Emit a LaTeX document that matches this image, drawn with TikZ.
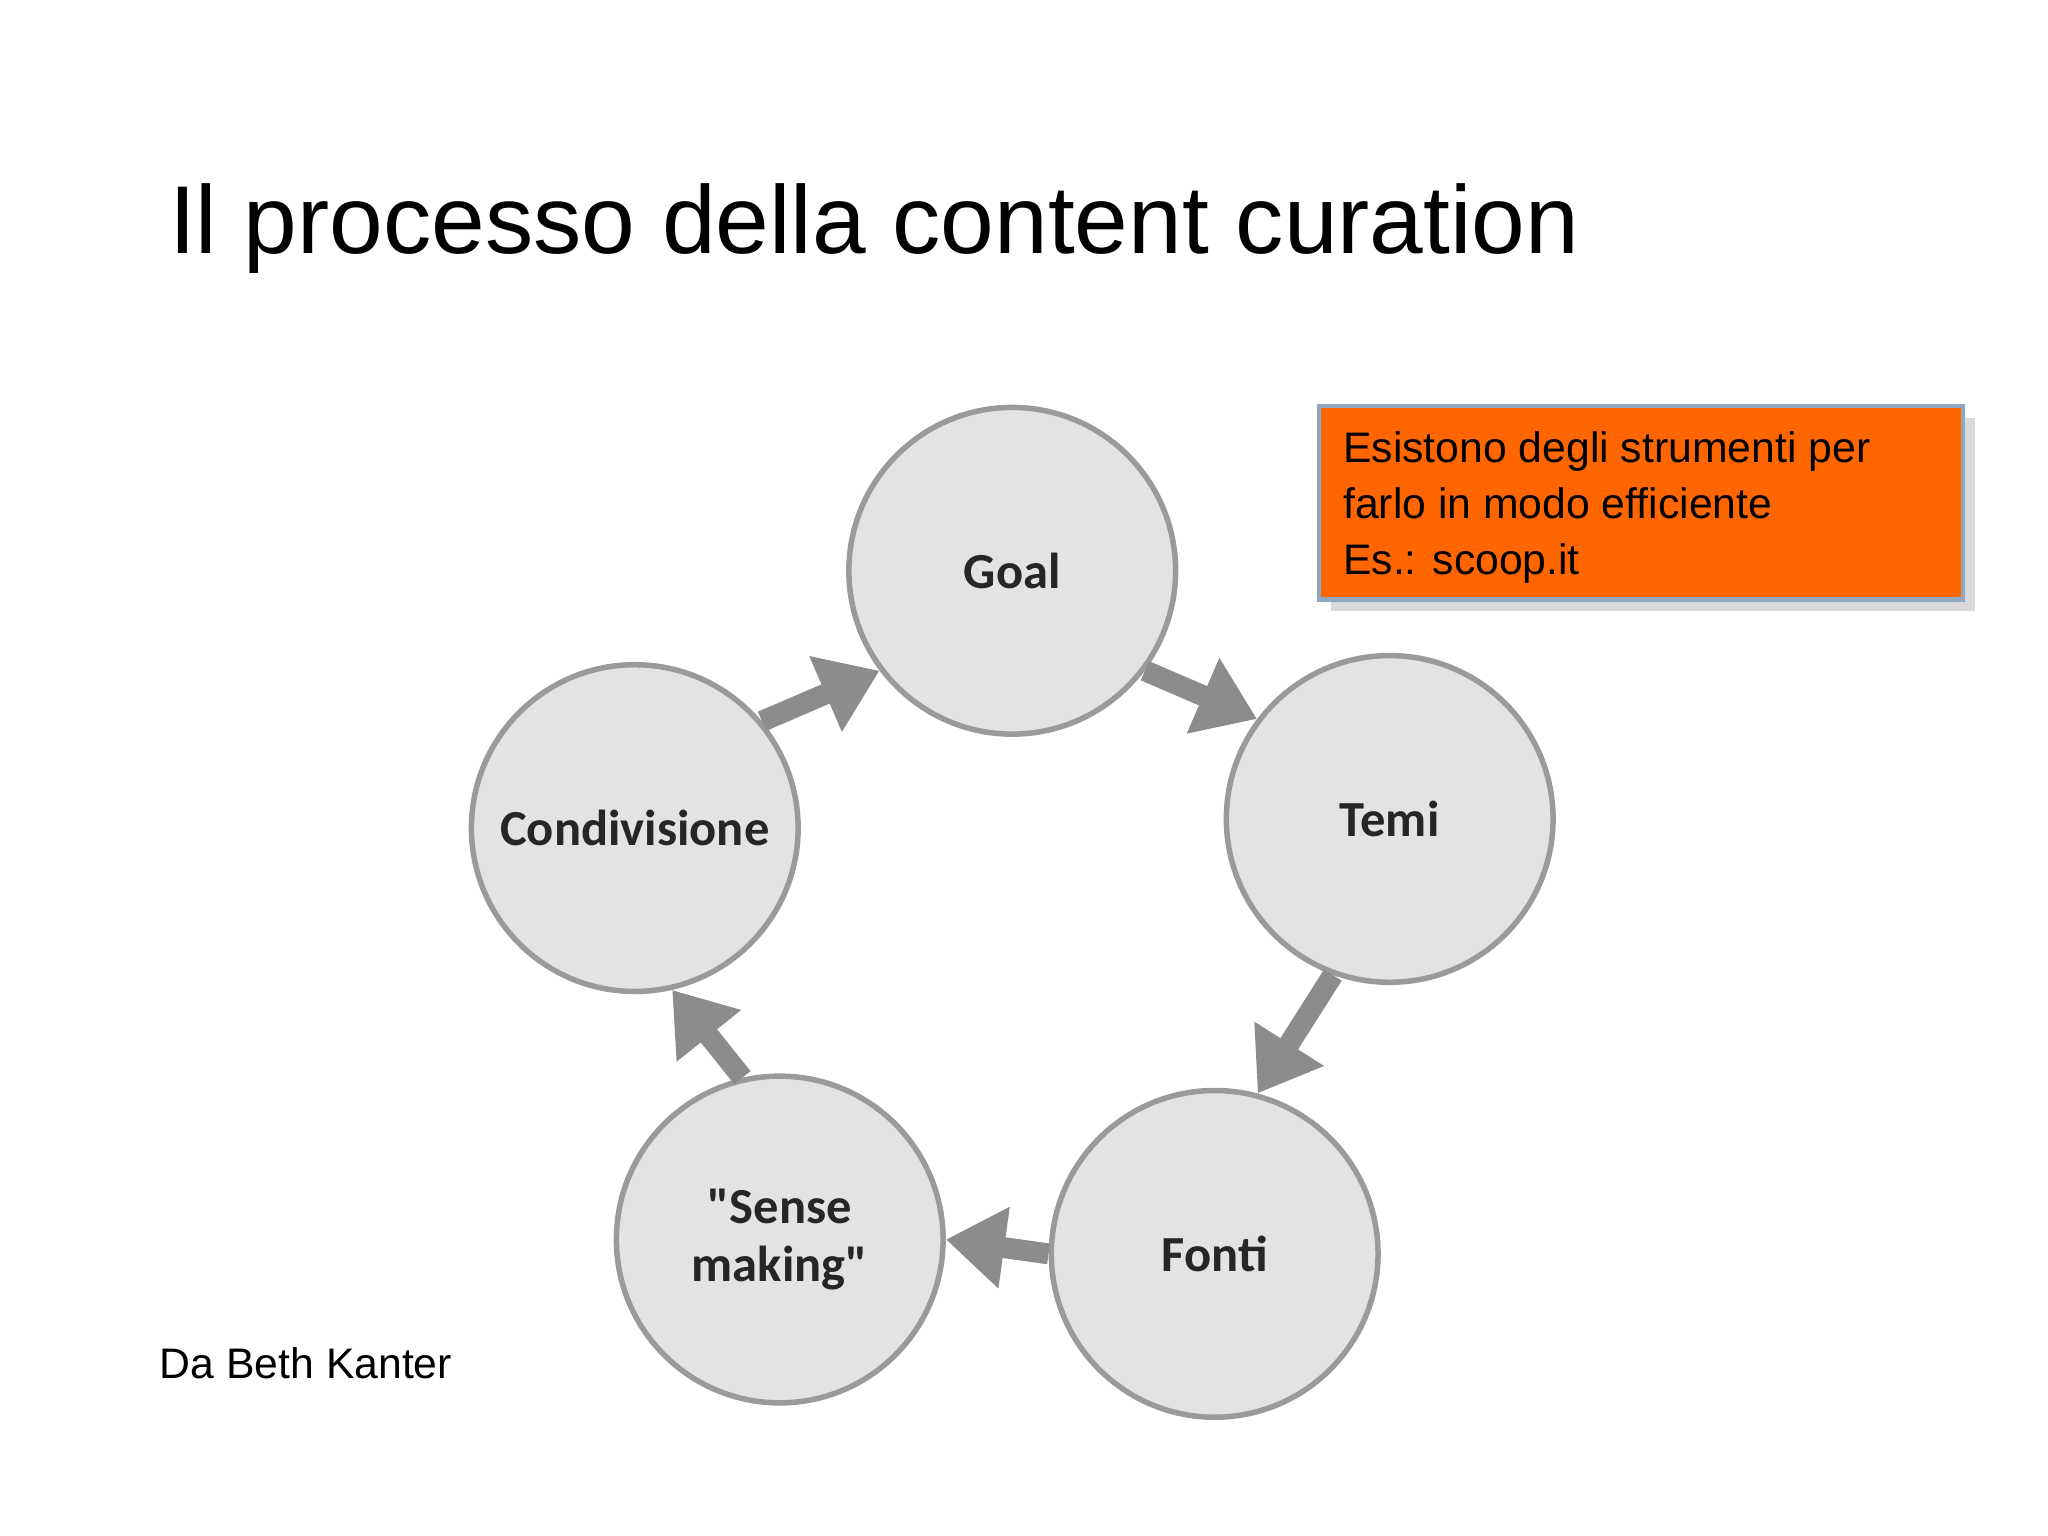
\documentclass[tikz,border=0pt]{standalone}
\usepackage{fontspec}
\setmainfont{Liberation Sans}
\newfontfamily\carlitofont{Carlito}
\usetikzlibrary{arrows.meta,shadows}
\definecolor{circfill}{HTML}{E3E3E5}
\definecolor{circline}{HTML}{9A9A9A}
\definecolor{arrgray}{HTML}{8C8C8C}
\definecolor{boxorange}{HTML}{FF6600}
\definecolor{boxline}{HTML}{8FA8C0}
\tikzset{
  stage/.style={circle,draw=circline,line width=1.2pt,fill=circfill,minimum size=2.5cm,inner sep=0pt,align=center,font=\carlitofont\fontsize{11}{12.5}\selectfont\bfseries,text=black!85},
  flow/.style={draw=arrgray,line width=0.16cm,-{Triangle[length=0.45cm,width=0.6cm]}}
}
\begin{document}
\begin{tikzpicture}[x=0.01cm,y=-0.01cm]
\useasboundingbox (0,0) rectangle (1568,1176);
\node[anchor=west,font=\fontsize{21}{25}\selectfont] (title) at (117,175) {Il processo della content curation};
\node[stage] (goal) at (775,437) {Goal};
\node[stage] (temi) at (1064,627) {Temi};
\node[stage] (fonti) at (930,960) {Fonti};
\node[stage] (sense) at (597,949) {"Sense\\making"};
\node[stage] (cond) at (486,634) {Condivisione};
\draw[flow] (goal.-37) -- (temi.143);
\draw[flow] (temi.-110) -- (fonti.75);
\draw[flow] (fonti.180) -- (sense.0);
\draw[flow] (sense.103) -- (cond.-77);
\draw[flow] (cond.40) -- (goal.-143);
\node[draw=boxline,line width=1pt,fill=boxorange,drop shadow={opacity=0.3},minimum width=4.93cm,minimum height=1.48cm,anchor=north west,inner sep=0pt] (box) at (1008,309) {};
\node[anchor=north west,align=left,font=\fontsize{9.3}{12.2}\selectfont] (boxtext) at (1016,318) {Esistono degli strumenti per\\farlo in modo efficiente\\Es.: scoop.it};
\node[anchor=west,font=\fontsize{9.3}{11}\selectfont] (credit) at (110,1044) {Da Beth Kanter};
\end{tikzpicture}
\end{document}
